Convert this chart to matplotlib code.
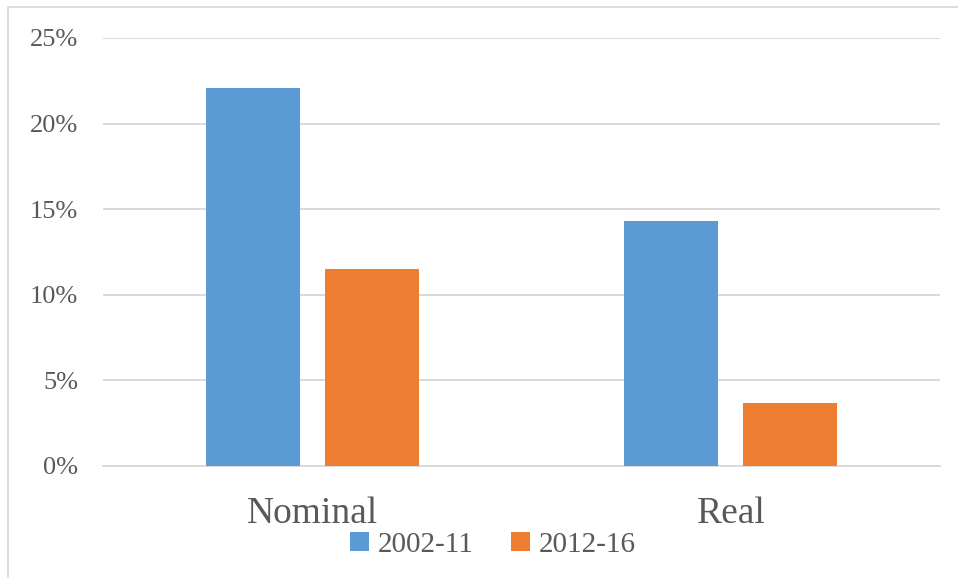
import matplotlib
matplotlib.use("Agg")
import matplotlib.pyplot as plt
from matplotlib.patches import Rectangle
import numpy as np

categories = ["Nominal", "Real"]
series_names = ["2002-11", "2012-16"]
values_2002_11 = [22.1, 14.3]
values_2012_16 = [11.5, 3.7]
yticks = [0, 5, 10, 15, 20, 25]

blue = "#5B9BD5"
orange = "#ED7D31"
text_color = "#595959"
grid_color = "#D9D9D9"

plt.rcParams['font.family'] = ['Liberation Serif', 'DejaVu Serif']

fig = plt.figure(figsize=(9.58, 5.78), dpi=100)
ax = fig.add_axes([103/958, 1 - 466/578, (940 - 103)/958, (466 - 38)/578])

x = np.arange(len(categories))
w = 0.225
off = 0.1425
ax.bar(x - off, values_2002_11, width=w, color=blue, label=series_names[0], zorder=3)
ax.bar(x + off, values_2012_16, width=w, color=orange, label=series_names[1], zorder=3)

ax.set_xlim(-0.5, 1.5)
ax.set_ylim(0, 25)
ax.set_yticks(yticks)
ax.set_yticklabels([f"{t}%" for t in yticks], fontsize=19, color=text_color)
ax.set_xticks(x)
ax.set_xticklabels(categories, fontsize=27, color=text_color)
ax.tick_params(axis='both', length=0)
ax.tick_params(axis='y', pad=18)
ax.tick_params(axis='x', pad=22)
ax.grid(axis='y', color=grid_color, linewidth=1.4, zorder=0)
for s in ["top", "right", "left"]:
    ax.spines[s].set_visible(False)
ax.spines["bottom"].set_color(grid_color)
ax.spines["bottom"].set_linewidth(1.4)

leg = fig.legend(loc='center', bbox_to_anchor=(493/958, 1 - 545/578), ncol=2,
                 frameon=False, fontsize=21, handlelength=0.65, handleheight=0.65,
                 handletextpad=0.3, columnspacing=1.3, labelcolor=text_color)

# outer chart border
fig.patches.append(Rectangle((8/958, -0.01), 1.0, 1 - 7/578 + 0.01, transform=fig.transFigure,
                             fill=False, edgecolor="#D9D9D9", linewidth=1.3))

fig.savefig("out.png", dpi=100, facecolor="white")
